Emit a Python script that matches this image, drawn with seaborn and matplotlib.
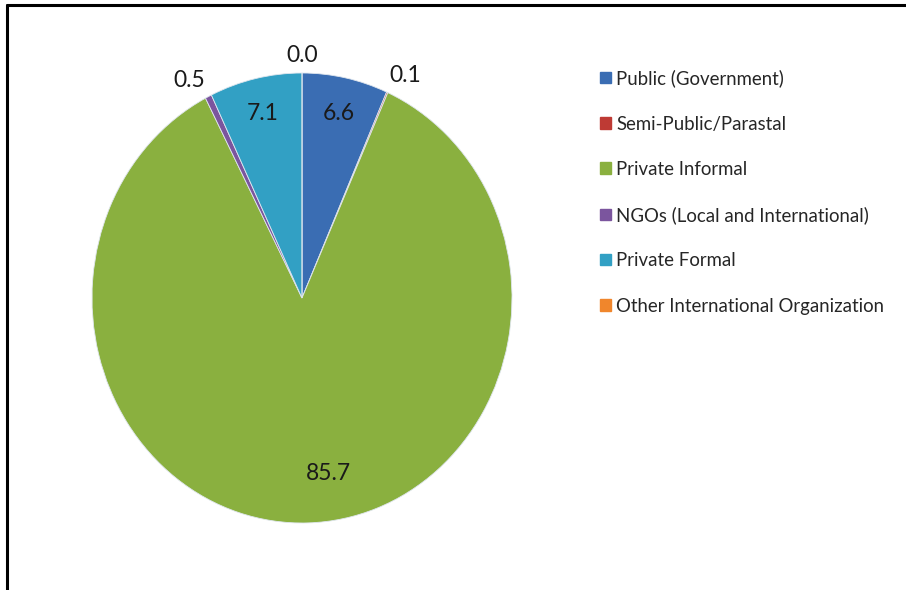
import matplotlib
matplotlib.use('Agg')
import matplotlib.pyplot as plt
import numpy as np
import seaborn as sns

# sector shares (%), clockwise from 12 o'clock
sectors = ['Public (Government)', 'Semi-Public/Parastal', 'Private Informal',
           'NGOs (Local and International)', 'Private Formal',
           'Other International Organization']
shares = [6.6, 0.1, 85.7, 0.5, 7.1, 0.0]
colors = ['#3A6DB3', '#BE3A34', '#8AB03F', '#7B559E', '#32A0C4', '#F0862C']

sns.set_style('white')
plt.rcParams['font.family'] = ['Lato', 'DejaVu Sans']

fig = plt.figure(figsize=(9.06, 5.90), dpi=100)

# frame lines (left and top) like the original screenshot
fig.add_artist(plt.Line2D([7 / 906, 7 / 906], [0, 1 - 5 / 590], color='black', lw=2.2))
fig.add_artist(plt.Line2D([7 / 906, 1], [1 - 5 / 590, 1 - 5 / 590], color='black', lw=2.2))

# pie axes, slightly taller than wide like the reference
ax = fig.add_axes([92 / 906, 67 / 590, 420 / 906, 450 / 590])
wedges, _ = ax.pie(shares, colors=colors, startangle=90, counterclock=False,
                   radius=1, wedgeprops=dict(edgecolor='#dfe6ee', linewidth=0.6),
                   normalize=True)
ax.set_aspect('auto')
ax.set_xlim(-1, 1)
ax.set_ylim(-1, 1)
ax.axis('off')

# data labels: large slices inside, small ones just outside the rim
for w, v in zip(wedges, shares):
    ang = (w.theta1 + w.theta2) / 2
    mid = np.deg2rad(ang)
    if v > 50:
        r, mid = 0.79, np.deg2rad(-81)
        ha, va = 'center', 'center'
    elif v > 5:
        r = 0.84
        ha, va = 'center', 'center'
    else:
        r = 1.03
        va = 'bottom'
        ha = 'center' if abs(np.cos(mid)) < 0.05 else ('left' if np.cos(mid) > 0 else 'right')
    ax.text(r * np.cos(mid), r * np.sin(mid), f'{v:.1f}', ha=ha, va=va,
            fontsize=16.5, color='#1a1a1a')

# legend
handles = [plt.Rectangle((0, 0), 1, 1, color=c) for c in colors]
fig.legend(handles, sectors, loc='upper left', bbox_to_anchor=(591 / 906, 1 - 60 / 590),
           frameon=False, fontsize=13.4, handlelength=0.58, handleheight=0.58,
           handletextpad=0.28, labelspacing=1.52, borderpad=0)

plt.savefig('out.png', dpi=100)
